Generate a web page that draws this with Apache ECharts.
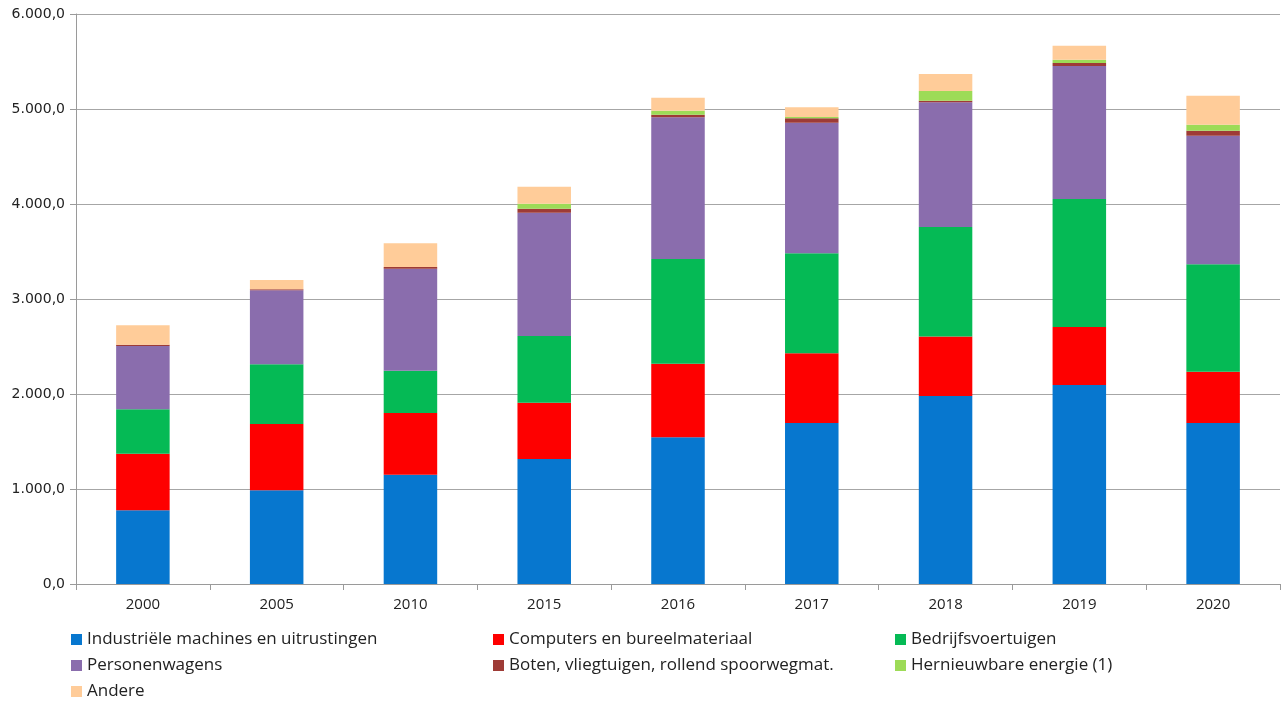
<!DOCTYPE html>
<html>
<head>
<meta charset="utf-8">
<script src="https://cdn.jsdelivr.net/npm/echarts@6/dist/echarts.min.js"></script>
<style>html,body{margin:0;padding:0;background:#fff}#c{width:1282px;height:704px}</style>
</head>
<body>
<div id="c"></div>
<script>
const categories = ['2000','2005','2010','2015','2016','2017','2018','2019','2020'];
const industriele = [776, 986, 1151, 1316, 1544, 1695, 1979, 2095, 1695];
const computers = [596, 698, 649, 593, 775, 733, 625, 610, 540];
const bedrijfsvoertuigen = [467, 629, 446, 702, 1102, 1053, 1154, 1348, 1130];
const personenwagens = [666, 779, 1073, 1298, 1491, 1375, 1313, 1400, 1354];
const boten = [14, 10, 18, 42, 28, 46, 17, 31, 53];
const hernieuwbare = [0, 0, 0, 52, 42, 14, 101, 35, 63];
const andere = [204, 98, 249, 179, 137, 102, 179, 147, 305];
const yTicks = [0, 1000, 2000, 3000, 4000, 5000, 6000];

const names = ['Industriële machines en uitrustingen','Computers en bureelmateriaal','Bedrijfsvoertuigen','Personenwagens','Boten, vliegtuigen, rollend spoorwegmat.','Hernieuwbare energie (1)','Andere'];
const colors = ['#0777cf','#fe0000','#05ba55','#8a6dad','#9e3b36','#9ddb57','#ffcc99'];
const datas = [industriele, computers, bedrijfsvoertuigen, personenwagens, boten, hernieuwbare, andere];

function fmt(v){
  const s = Math.round(v).toString().replace(/\B(?=(\d{3})+(?!\d))/g, '.');
  return s + ',0';
}

const series = names.map((n,i)=>({
  name: n, type: 'bar', stack: 'total', data: datas[i], barWidth: '40%',
  itemStyle: {color: colors[i]}, emphasis: {disabled: true}
}));

const legendBase = {
  orient: 'vertical', itemWidth: 11, itemHeight: 11, itemGap: 9, icon: 'rect',
  height: 100, padding: [5, 5, 0, 5],
  textStyle: {fontFamily: 'Open Sans', fontSize: 17, color: '#222'}
};

const chart = echarts.init(document.getElementById('c'));
chart.setOption({
  animation: false,
  grid: {left: 76, right: 2, top: 14, bottom: 120, containLabel: false},
  legend: [
    Object.assign({}, legendBase, {left: 66, top: 626, data: [names[0], names[3], names[6]]}),
    Object.assign({}, legendBase, {left: 488, top: 626, data: [names[1], names[4]]}),
    Object.assign({}, legendBase, {left: 890, top: 626, data: [names[2], names[5]]})
  ],
  xAxis: {
    type: 'category', data: categories,
    axisLine: {lineStyle: {color: '#9a9a9a', width: 1}},
    axisTick: {show: true, alignWithLabel: false, length: 6, lineStyle: {color: '#9a9a9a'}},
    axisLabel: {fontFamily: 'Open Sans', fontSize: 15, color: '#222', margin: 13}
  },
  yAxis: {
    type: 'value', min: 0, max: 6000, interval: 1000,
    axisLine: {show: true, lineStyle: {color: '#9a9a9a'}},
    axisTick: {show: true, length: 6, lineStyle: {color: '#9a9a9a'}},
    splitLine: {lineStyle: {color: '#a6a6a6', width: 1}},
    axisLabel: {fontFamily: 'DejaVu Sans', fontSize: 14, color: '#222', margin: 11,
      formatter: v => yTicks.includes(v) ? fmt(v) : ''}
  },
  series: series
});
</script>
</body>
</html>
